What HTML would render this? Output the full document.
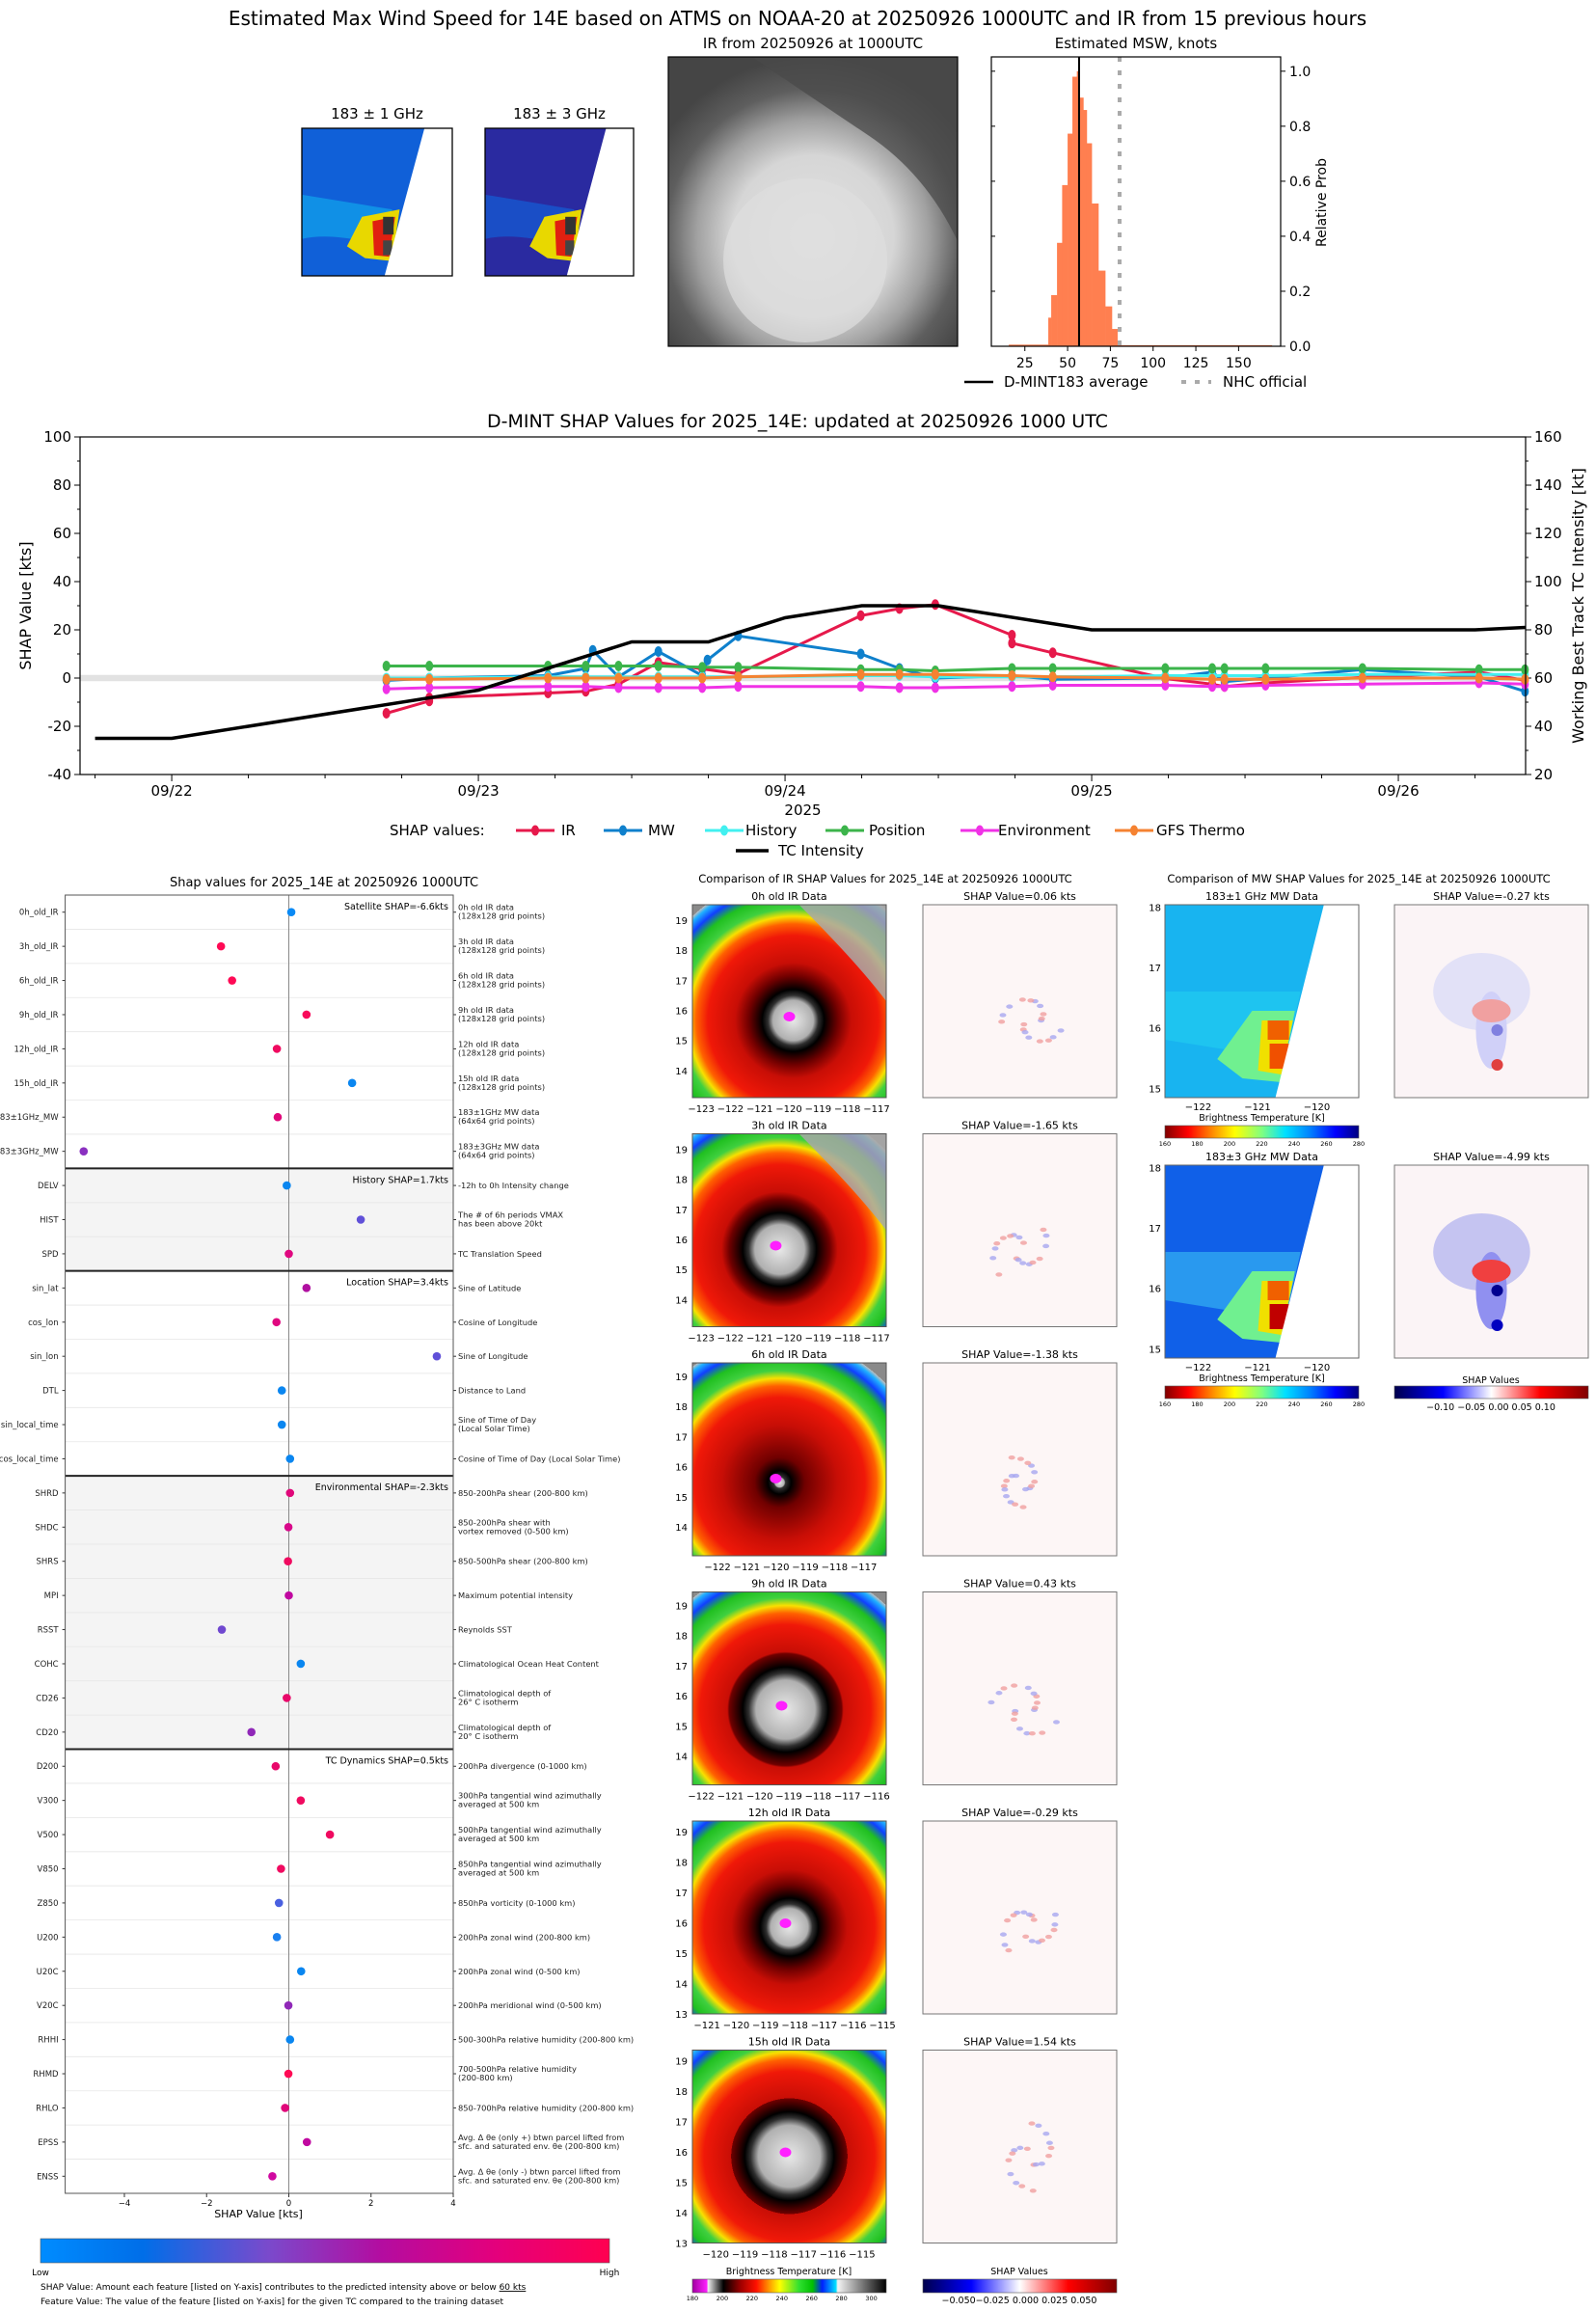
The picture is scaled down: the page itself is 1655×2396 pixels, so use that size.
<!DOCTYPE html>
<html><head><meta charset="utf-8">
<style>
html,body{margin:0;padding:0;background:#fff;}
svg{display:block;font-family:"DejaVu Sans","Liberation Sans",sans-serif;}
</style></head>
<body>
<svg id="page" width="1655" height="2396" viewBox="0 0 1655 2396" xmlns="http://www.w3.org/2000/svg">
<defs>
  <radialGradient id="topir" cx="0.5" cy="0.62" r="0.62">
    <stop offset="0" stop-color="#e2e2e2"/><stop offset="0.45" stop-color="#d6d6d6"/>
    <stop offset="0.65" stop-color="#a0a0a0"/><stop offset="0.82" stop-color="#5e5e5e"/><stop offset="1" stop-color="#454545"/>
  </radialGradient>
  <linearGradient id="cbShap" x1="0" x2="1" y1="0" y2="0">
    <stop offset="0" stop-color="#008cff"/><stop offset="0.18" stop-color="#006ee8"/><stop offset="0.4" stop-color="#7a4acc"/>
    <stop offset="0.6" stop-color="#b40ca0"/><stop offset="0.8" stop-color="#e4007c"/><stop offset="1" stop-color="#ff0050"/>
  </linearGradient>
  <linearGradient id="cbIR" x1="0" x2="1" y1="0" y2="0">
    <stop offset="0" stop-color="#a000a0"/><stop offset="0.075" stop-color="#ff20ff"/><stop offset="0.08" stop-color="#f0f0f0"/>
    <stop offset="0.16" stop-color="#000"/><stop offset="0.25" stop-color="#a00000"/><stop offset="0.33" stop-color="#ff1000"/>
    <stop offset="0.4" stop-color="#ffa000"/><stop offset="0.45" stop-color="#ffff00"/><stop offset="0.55" stop-color="#30e030"/>
    <stop offset="0.62" stop-color="#00c000"/><stop offset="0.67" stop-color="#0020ff"/><stop offset="0.74" stop-color="#00e0ff"/>
    <stop offset="0.75" stop-color="#f4f4f4"/><stop offset="1" stop-color="#000"/>
  </linearGradient>
  <linearGradient id="cbMW" x1="0" x2="1" y1="0" y2="0">
    <stop offset="0" stop-color="#800000"/><stop offset="0.12" stop-color="#ff0000"/><stop offset="0.25" stop-color="#ff9000"/>
    <stop offset="0.36" stop-color="#ffff00"/><stop offset="0.5" stop-color="#80ff80"/><stop offset="0.62" stop-color="#00e0ff"/>
    <stop offset="0.75" stop-color="#0080ff"/><stop offset="0.88" stop-color="#0000ff"/><stop offset="1" stop-color="#000080"/>
  </linearGradient>
  <linearGradient id="cbSeis" x1="0" x2="1" y1="0" y2="0">
    <stop offset="0" stop-color="#00004c"/><stop offset="0.25" stop-color="#0000ff"/><stop offset="0.5" stop-color="#ffffff"/>
    <stop offset="0.75" stop-color="#ff0000"/><stop offset="1" stop-color="#800000"/>
  </linearGradient>
</defs>

<text x="827" y="26" font-size="20" text-anchor="middle">Estimated Max Wind Speed for 14E based on ATMS on NOAA-20 at 20250926 1000UTC and IR from 15 previous hours</text>
<text x="391" y="123" font-size="15" text-anchor="middle">183 ± 1 GHz</text>
<text x="580" y="123" font-size="15" text-anchor="middle">183 ± 3 GHz</text>
<g id="topmw"></g>
<text x="843" y="50" font-size="15" text-anchor="middle">IR from 20250926 at 1000UTC</text>
<g>
  <rect x="693" y="59" width="300" height="300" fill="url(#topir)"/>
  <path d="M780 59 L993 59 L993 250 Q960 180 900 140 Q840 100 780 59 Z" fill="#4a4a4a" opacity="0.75"/>
  <ellipse cx="835" cy="270" rx="85" ry="85" fill="#dedede" opacity="0.7"/>
  <rect x="693" y="59" width="300" height="300" fill="none" stroke="#000" stroke-width="1.2"/>
</g>
<text x="1178" y="50" font-size="15" text-anchor="middle">Estimated MSW, knots</text>
<g id="hist"></g>

<text x="827" y="443" font-size="19" text-anchor="middle">D-MINT SHAP Values for 2025_14E: updated at 20250926 1000 UTC</text>
<g id="main"></g>

<text x="336" y="919" font-size="13" text-anchor="middle">Shap values for 2025_14E at 20250926 1000UTC</text>
<g id="dots"></g>
<rect x="42" y="2321" width="590" height="25" fill="url(#cbShap)" stroke="#555" stroke-width="0.6"/>
<text x="42" y="2359" font-size="9" text-anchor="middle">Low</text>
<text x="632" y="2359" font-size="9" text-anchor="middle">High</text>
<text x="42" y="2374" font-size="9">SHAP Value: Amount each feature [listed on Y-axis] contributes to the predicted intensity above or below <tspan text-decoration="underline">60 kts</tspan></text>
<text x="42" y="2389" font-size="9">Feature Value: The value of the feature [listed on Y-axis] for the given TC compared to the training dataset</text>

<text x="918" y="915" font-size="11.5" text-anchor="middle">Comparison of IR SHAP Values for 2025_14E at 20250926 1000UTC</text>
<text x="1409" y="915" font-size="11.5" text-anchor="middle">Comparison of MW SHAP Values for 2025_14E at 20250926 1000UTC</text>
<g id="irgrid"></g>
<g id="mwgrid"></g>
</svg>

<script>
const tcDays = [-0.25, 0, 1, 1.5, 1.75, 2, 2.25, 2.5, 3, 4.25, 4.415];
const tcVals = [35, 35, 55, 75, 75, 85, 90, 90, 80, 80, 81];
const irDays = [0.70,0.84,0.84,1.227,1.35,1.457,1.587,1.73,1.847,2.247,2.373,2.49,2.74,2.74,2.873,3.24,3.393,3.433,3.567,3.883,4.263,4.413];
const irVals = [-14.6,-9.5,-8.2,-6.2,-5.5,-2.5,6.5,3.8,1.8,25.9,28.8,30.5,17.8,14.5,10.5,-0.2,-2.5,-3.5,-2.0,0.3,2.5,-1.0];
const mwDays = [0.70,0.84,1.227,1.35,1.373,1.457,1.587,1.73,1.747,1.847,2.247,2.373,2.49,2.74,2.873,3.24,3.393,3.433,3.567,3.883,4.263,4.413];
const mwVals = [-1.0,0,1.0,4.0,11.5,0.5,11.0,1.0,7.5,17.5,10.0,4.0,0.0,1.0,-0.5,0,2.5,-1.5,0,3.5,0.5,-5.5];
const otherDays = [0.70,0.84,1.227,1.35,1.457,1.587,1.73,1.847,2.247,2.373,2.49,2.74,2.873,3.24,3.393,3.433,3.567,3.883,4.263,4.413];
const historyVals = [0,0,0.5,0.5,0.5,0.5,0.5,0.5,1.0,1.0,0.5,0.5,0.5,1.0,1.0,1.0,1.0,1.5,1.5,1.5];
const positionVals = [5,5,5,5,5,5,4.5,4.5,3.5,3.5,3,4,4,4,4,4,4,4,3.5,3.5];
const envVals = [-4.5,-4,-3.5,-3.5,-4,-4,-4,-3.5,-3.5,-4,-4,-3.5,-3,-3,-3.5,-3.5,-3,-2.5,-2,-2.5];
const gfsVals = [-0.5,-0.5,0,0,0,0,0,0.5,1.5,1.5,1.5,1,0.5,0,-0.5,-0.5,-0.5,0,0,-0.5];
const dateLabels = ["09/22","09/23","09/24","09/25","09/26"];
const leftTicks = [-40,-20,0,20,40,60,80,100];
const rightTicks = [20,40,60,80,100,120,140,160];

const binEdges = [38.7,40.4,43.8,46.8,50.0,52.8,55.4,57.1,59.2,61.2,64.1,68.0,72.0,75.9,79.1];
const binProbs = [0.104,0.186,0.376,0.586,0.773,0.98,1.0,0.904,0.859,0.738,0.519,0.275,0.145,0.063];
const tailLeft = [15.6, 38.7, 0.006];
const tailRight = [79.1, 169.6, 0.004];
const mintAvg = 56.7;
const nhcOfficial = 80.4;
const histXTicks = [25,50,75,100,125,150];
const histYTicks = [0.0,0.2,0.4,0.6,0.8,1.0];

const featNames = ["0h_old_IR","3h_old_IR","6h_old_IR","9h_old_IR","12h_old_IR","15h_old_IR","183±1GHz_MW","183±3GHz_MW",
 "DELV","HIST","SPD","sin_lat","cos_lon","sin_lon","DTL","sin_local_time","cos_local_time",
 "SHRD","SHDC","SHRS","MPI","RSST","COHC","CD26","CD20",
 "D200","V300","V500","V850","Z850","U200","U20C","V20C","RHHI","RHMD","RHLO","EPSS","ENSS"];
const featShap = [0.06,-1.65,-1.38,0.43,-0.29,1.54,-0.27,-4.99,
 -0.05,1.75,0.0,0.43,-0.30,3.60,-0.17,-0.17,0.03,
 0.03,-0.01,-0.02,0.0,-1.63,0.29,-0.05,-0.91,
 -0.32,0.29,1.0,-0.19,-0.24,-0.29,0.30,-0.01,0.03,-0.01,-0.09,0.44,-0.40];
const featColor = ["#0a8af5","#ff0a55","#ff0a55","#f80a5a","#f00a60","#0a86f0","#e0087a","#8a30c0",
 "#0a86f0","#6050d8","#e00880","#b010a0","#e00880","#6050d8","#0a86f0","#0a86f0","#0a86f0",
 "#e0087a","#d8088a","#f00a60","#c008a0","#7048d0","#0a86f0","#e8086a","#9028b8",
 "#e8086a","#f00a60","#f00a60","#f00a60","#4a60e0","#1a80f0","#0a86f0","#9028b8","#0a86f0","#ff0a55","#e0087a","#c008a0","#d008a0"];
const featDesc = [["0h old IR data","(128x128 grid points)"],["3h old IR data","(128x128 grid points)"],["6h old IR data","(128x128 grid points)"],
 ["9h old IR data","(128x128 grid points)"],["12h old IR data","(128x128 grid points)"],["15h old IR data","(128x128 grid points)"],
 ["183±1GHz MW data","(64x64 grid points)"],["183±3GHz MW data","(64x64 grid points)"],
 ["-12h to 0h Intensity change"],["The # of 6h periods VMAX","has been above 20kt"],["TC Translation Speed"],
 ["Sine of Latitude"],["Cosine of Longitude"],["Sine of Longitude"],["Distance to Land"],["Sine of Time of Day","(Local Solar Time)"],["Cosine of Time of Day (Local Solar Time)"],
 ["850-200hPa shear (200-800 km)"],["850-200hPa shear with","vortex removed (0-500 km)"],["850-500hPa shear (200-800 km)"],["Maximum potential intensity"],
 ["Reynolds SST"],["Climatological Ocean Heat Content"],["Climatological depth of","26° C isotherm"],["Climatological depth of","20° C isotherm"],
 ["200hPa divergence (0-1000 km)"],["300hPa tangential wind azimuthally","averaged at 500 km"],["500hPa tangential wind azimuthally","averaged at 500 km"],
 ["850hPa tangential wind azimuthally","averaged at 500 km"],["850hPa vorticity (0-1000 km)"],["200hPa zonal wind (200-800 km)"],["200hPa zonal wind (0-500 km)"],
 ["200hPa meridional wind (0-500 km)"],["500-300hPa relative humidity (200-800 km)"],["700-500hPa relative humidity","(200-800 km)"],
 ["850-700hPa relative humidity (200-800 km)"],["Avg. Δ θe (only +) btwn parcel lifted from","sfc. and saturated env. θe (200-800 km)"],["Avg. Δ θe (only -) btwn parcel lifted from","sfc. and saturated env. θe (200-800 km)"]];
const groupNames = ["Satellite SHAP=-6.6kts","History SHAP=1.7kts","Location SHAP=3.4kts","Environmental SHAP=-2.3kts","TC Dynamics SHAP=0.5kts"];
const groupSizes = [8,3,6,8,13];
const dotTicks = [-4,-2,0,2,4];

const NS = "http://www.w3.org/2000/svg";
function mk(tag, attrs, parent){const e=document.createElementNS(NS,tag);for(const k in attrs)e.setAttribute(k,attrs[k]);parent.appendChild(e);return e;}
function txt(s, attrs, parent){const e=mk("text",attrs,parent);e.textContent=s;return e;}

(function(){
  const g=document.getElementById("main");
  const L=83,R=1582,T=453,B=803;
  const xmin=-0.299,xmax=4.415;
  const X=d=>L+(d-xmin)/(xmax-xmin)*(R-L);
  const Y=v=>B-(v+40)/140*(B-T);
  const Yr=v=>Y(v-60);
  let e;
  e=mk("rect",{x:L,y:Y(1.3),width:R-L,height:Y(-1.3)-Y(1.3),fill:"#e2e2e2"},g);
  
  
  for(let v=-40;v<=100;v+=10){
    e=mk("line",{x1:L-(v%20===0?6:3),x2:L,y1:Y(v),y2:Y(v),stroke:"#000"},g);
    
    
  }
  leftTicks.forEach(v=>{
    e=txt(String(v),{x:L-9,y:Y(v)+5,"font-size":15,"text-anchor":"end"},g);
    
    
  });
  for(let v=20;v<=160;v+=10){
    e=mk("line",{x1:R,x2:R+(v%20===0?6:3),y1:Yr(v),y2:Yr(v),stroke:"#000"},g);
    
    
  }
  rightTicks.forEach(v=>{
    e=txt(String(v),{x:R+9,y:Yr(v)+5,"font-size":15},g);
    
    
  });
  for(let d=-0.25;d<=4.4;d+=0.25){
    const major=Math.abs(d-Math.round(d))<1e-6;
    e=mk("line",{x1:X(d),x2:X(d),y1:B,y2:B+(major?7:4),stroke:"#000"},g);
    
    
  }
  dateLabels.forEach((s,i)=>{
    e=txt(s,{x:X(i),y:825,"font-size":15,"text-anchor":"middle"},g);
    
    
  });
  e=txt("2025",{x:(L+R)/2,y:845,"font-size":15,"text-anchor":"middle"},g);
  
  
  e=txt("SHAP Value [kts]",{x:0,y:0,"font-size":16,"text-anchor":"middle",transform:`translate(32,${(T+B)/2}) rotate(-90)`},g);
  
  
  e=txt("Working Best Track TC Intensity [kt]",{x:0,y:0,"font-size":16,"text-anchor":"middle",transform:`translate(1642,${(T+B)/2}) rotate(-90)`},g);
  
  

  function series(days,vals,color,name){
    const pts=days.map((d,i)=>X(d).toFixed(1)+","+Y(vals[i]).toFixed(1)).join(" ");
    let p=mk("polyline",{points:pts,fill:"none",stroke:color,"stroke-width":3},g);
    
    
    days.forEach((d,i)=>{
      const c=mk("ellipse",{cx:X(d),cy:Y(vals[i]),rx:4,ry:5.5,fill:color},g);
      
      
    });
  }
  series(irDays,irVals,"#e6194b","ir");
  series(mwDays,mwVals,"#0f80cc","mw");
  series(otherDays,historyVals,"#42f0f0","history");
  series(otherDays,positionVals,"#3cb44b","position");
  series(otherDays,envVals,"#f032e6","environment");
  series(otherDays,gfsVals,"#f58231","gfs-thermo");
  const tp=tcDays.map((d,i)=>X(d).toFixed(1)+","+Yr(tcVals[i]).toFixed(1)).join(" ");
  e=mk("polyline",{points:tp,fill:"none",stroke:"#000","stroke-width":3.5},g);
  
  
  e=mk("rect",{x:L,y:T,width:R-L,height:B-T,fill:"none",stroke:"#000","stroke-width":1.2},g);
  
  

  const lg=mk("g",{},g);
  
  
  txt("SHAP values:",{x:404,y:866,"font-size":15},lg);
  const items=[["IR","#e6194b",535,582],["MW","#0f80cc",626,672],["History","#42f0f0",731,773],["Position","#3cb44b",856,901],["Environment","#f032e6",996,1035],["GFS Thermo","#f58231",1156,1199]];
  items.forEach(it=>{
    const li=mk("g",{},lg);
    
    
    mk("line",{x1:it[2],x2:it[2]+40,y1:861,y2:861,stroke:it[1],"stroke-width":3},li);
    mk("ellipse",{cx:it[2]+20,cy:861,rx:4,ry:5.5,fill:it[1]},li);
    txt(it[0],{x:it[3],y:866,"font-size":15},li);
  });
  const tl=mk("g",{},lg);
  
  
  mk("line",{x1:763,x2:797,y1:882,y2:882,stroke:"#000","stroke-width":3.5},tl);
  txt("TC Intensity",{x:807,y:887,"font-size":15},tl);
})();

(function(){
  const g=document.getElementById("hist");
  const L=1028,R=1328,T=59,B=359,xmin=5.4,xmax=174.6,ymax=1.052;
  const X=v=>L+(v-xmin)/(xmax-xmin)*(R-L);
  const Y=v=>B-v/ymax*(B-T);
  let e;
  e=mk("rect",{x:X(tailLeft[0]),y:Y(tailLeft[2]),width:X(tailLeft[1])-X(tailLeft[0]),height:B-Y(tailLeft[2]),fill:"#ff7f50"},g);
  
  
  e=mk("rect",{x:X(tailRight[0]),y:Y(tailRight[2]),width:X(tailRight[1])-X(tailRight[0]),height:B-Y(tailRight[2]),fill:"#ff7f50"},g);
  
  
  binProbs.forEach((p,i)=>{
    const r=mk("rect",{x:X(binEdges[i]),y:Y(p),width:X(binEdges[i+1])-X(binEdges[i])+0.3,height:B-Y(p),fill:"#ff7f50"},g);
    
    
  });
  e=mk("line",{x1:X(mintAvg),x2:X(mintAvg),y1:T,y2:B,stroke:"#000","stroke-width":2},g);
  
  
  e=mk("line",{x1:X(nhcOfficial),x2:X(nhcOfficial),y1:T,y2:B,stroke:"#aaa","stroke-width":4,"stroke-dasharray":"5 9"},g);
  
  
  e=mk("rect",{x:L,y:T,width:R-L,height:B-T,fill:"none",stroke:"#000","stroke-width":1.2},g);
  
  
  histXTicks.forEach(v=>{
    e=mk("line",{x1:X(v),x2:X(v),y1:B,y2:B+5,stroke:"#000"},g);
    
    
    e=txt(String(v),{x:X(v),y:381,"font-size":14,"text-anchor":"middle"},g);
    
    
  });
  histYTicks.forEach(v=>{
    e=mk("line",{x1:R,x2:R+5,y1:Y(v),y2:Y(v),stroke:"#000"},g);
    
    
    e=mk("line",{x1:L,x2:L+4,y1:Y(v),y2:Y(v),stroke:"#000"},g);
    
    
    e=txt(v.toFixed(1),{x:R+9,y:Y(v)+5,"font-size":14},g);
    
    
  });
  e=txt("Relative Prob",{x:0,y:0,"font-size":14,"text-anchor":"middle",transform:`translate(1375,210) rotate(-90)`},g);
  
  
  const l1=mk("g",{},g);
  
  
  mk("line",{x1:1000,x2:1030,y1:396,y2:396,stroke:"#000","stroke-width":2.5},l1);
  txt("D-MINT183 average",{x:1041,y:401,"font-size":15},l1);
  const l2=mk("g",{},g);
  
  
  mk("line",{x1:1225,x2:1256,y1:396,y2:396,stroke:"#aaa","stroke-width":4,"stroke-dasharray":"5 9"},l2);
  txt("NHC official",{x:1268,y:401,"font-size":15},l2);
})();

(function(){
  const g=document.getElementById("topmw");
  function panel(x,y,w,h,base,alt,name){
    const p=mk("g",{},g);
    
    
    mk("rect",{x:x,y:y,width:w,height:h,fill:base},p);
    mk("path",{d:`M${x} ${y+h*0.45} Q${x+w*0.3} ${y+h*0.5} ${x+w*0.6} ${y+h*0.55} L${x+w*0.55} ${y+h*0.8} Q${x+w*0.2} ${y+h*0.7} ${x} ${y+h*0.75}Z`,fill:alt,opacity:0.6},p);
    mk("path",{d:`M${x+w*0.4} ${y+h*0.6} L${x+w*0.65} ${y+h*0.55} L${x+w*0.6} ${y+h*0.9} L${x+w*0.42} ${y+h*0.88} L${x+w*0.3} ${y+h*0.8}Z`,fill:"#e8d800"},p);
    mk("path",{d:`M${x+w*0.47} ${y+h*0.63} L${x+w*0.62} ${y+h*0.6} L${x+w*0.58} ${y+h*0.87} L${x+w*0.48} ${y+h*0.86}Z`,fill:"#e02010"},p);
    mk("rect",{x:x+w*0.54,y:y+h*0.6,width:w*0.07,height:h*0.12,fill:"#333"},p);
    mk("rect",{x:x+w*0.54,y:y+h*0.76,width:w*0.06,height:h*0.1,fill:"#444"},p);
    mk("polygon",{points:`${x+w*0.815},${y} ${x+w},${y} ${x+w},${y+h} ${x+w*0.55},${y+h}`,fill:"#fff"},p);
    mk("rect",{x:x,y:y,width:w,height:h,fill:"none",stroke:"#000","stroke-width":1.3},p);
  }
  panel(313,133,156,153,"#1060d8","#10b0f0","mw1-top-image");
  panel(503,133,154,153,"#2a2aa0","#1068e0","mw3-top-image");
})();

(function(){
  const g=document.getElementById("dots");
  const L=67.6,R=470,T=928,B=2274,xmin=-5.44,xmax=4;
  const n=featNames.length,rh=(B-T)/n;
  const X=v=>L+(v-xmin)/(xmax-xmin)*(R-L);
  const Yc=i=>T+rh*(i+0.5);
  let e,start=0;
  groupSizes.forEach((s,gi)=>{
    if(gi===1||gi===3){
      e=mk("rect",{x:L,y:T+start*rh,width:R-L,height:s*rh,fill:"#f4f4f4"},g);
      
      
    }
    e=txt(groupNames[gi],{x:R-5,y:T+start*rh+15,"font-size":9.5,"text-anchor":"end"},g);
    
    
    start+=s;
  });
  for(let i=1;i<n;i++){
    e=mk("line",{x1:L,x2:R,y1:T+i*rh,y2:T+i*rh,stroke:"#e6e6e6","stroke-width":0.8},g);
    
    
  }
  e=mk("line",{x1:X(0),x2:X(0),y1:T,y2:B,stroke:"#888","stroke-width":1},g);
  
  
  start=0;
  groupSizes.forEach((s,gi)=>{
    start+=s;
    if(gi<groupSizes.length-1){
      e=mk("line",{x1:L,x2:R,y1:T+start*rh,y2:T+start*rh,stroke:"#222","stroke-width":2},g);
      
      
    }
  });
  featNames.forEach((nm,i)=>{
    const y=Yc(i);
    e=txt(nm,{x:L-7,y:y+3,"font-size":8.5,"text-anchor":"end",fill:"#222"},g);
    
    
    e=mk("line",{x1:L-3,x2:L,y1:y,y2:y,stroke:"#333"},g);
    
    
    e=mk("line",{x1:R,x2:R+3,y1:y,y2:y,stroke:"#333"},g);
    
    
    const d=featDesc[i];
    d.forEach((line,k)=>{
      const yy=d.length===1?y+3:y-2+k*9;
      e=txt(line,{x:R+5,y:yy,"font-size":8.3,fill:"#222"},g);
      
      
    });
    const c=mk("circle",{cx:X(featShap[i]),cy:y,r:4.3,fill:featColor[i]},g);
    
    
  });
  e=mk("rect",{x:L,y:T,width:R-L,height:B-T,fill:"none",stroke:"#555","stroke-width":1},g);
  
  
  dotTicks.forEach(v=>{
    e=mk("line",{x1:X(v),x2:X(v),y1:B,y2:B+4,stroke:"#333"},g);
    
    
    e=txt(v<0?"−"+(-v):String(v),{x:X(v),y:B+13,"font-size":8.5,"text-anchor":"middle"},g);
    
    
  });
  e=txt("SHAP Value [kts]",{x:268,y:B+25,"font-size":11,"text-anchor":"middle"},g);
  
  
})();

(function(){
  const g=document.getElementById("irgrid");
  const tops=[938,1175.5,1413,1650.5,1888,2125.5];
  const titles=["0h old IR Data","3h old IR Data","6h old IR Data","9h old IR Data","12h old IR Data","15h old IR Data"];
  const shapT=["SHAP Value=0.06 kts","SHAP Value=-1.65 kts","SHAP Value=-1.38 kts","SHAP Value=0.43 kts","SHAP Value=-0.29 kts","SHAP Value=1.54 kts"];
  const cores=[[0.52,0.6,0.13],[0.45,0.6,0.16],[0.45,0.62,0.03],[0.48,0.61,0.19],[0.5,0.55,0.12],[0.5,0.55,0.2]];
  const lonLeft=[-123.3,-123.3,-122.86,-122.3,-121.5,-120.8];
  const latTop=[19.51,19.51,19.45,19.45,19.35,19.35];
  const lonTicks=[[-123,-117],[-123,-117],[-122,-117],[-122,-116],[-121,-115],[-120,-115]];
  const latTicks=[[14,19],[14,19],[14,19],[14,19],[13,19],[13,19]];
  const x0=718,w=201,h=200,sx=957;
  const defs=document.querySelector("defs");
  const clip=mk("clipPath",{id:"irclip"},defs);
  tops.forEach((t,i)=>{
    const [cx,cy,rc]=cores[i];
    const gid="irg"+i;
    const rg=mk("radialGradient",{id:gid,cx:cx,cy:cy,r:0.75},defs);
    const stops=[[0,"#e8e8e8"],[rc*0.8,"#b0b0b0"],[rc,"#303030"],[rc+0.03,"#000"],[rc+0.1,"#700000"],[0.3,"#c80e06"],[0.44,"#f01808"],[0.5,"#ff6000"],[0.54,"#f8e000"],[0.58,"#40d040"],[0.64,"#20c020"],[0.69,"#1040ff"],[0.73,"#20b0ff"],[0.77,"#c0c0c0"],[1,"#8a8a8a"]];
    stops.forEach(s=>mk("stop",{offset:Math.min(1,s[0]/0.75),"stop-color":s[1]},rg));
    const p=mk("g",{},g);
    
    
    mk("rect",{x:x0,y:t,width:w,height:h,fill:`url(#${gid})`},p);
    if(i<2){
      mk("path",{d:`M${x0+w*0.55} ${t} L${x0+w} ${t} L${x0+w} ${t+h*0.5} Q${x0+w*0.85} ${t+h*0.3} ${x0+w*0.55} ${t}Z`,fill:"#a8a8a8",opacity:0.85},p);
    }
    mk("ellipse",{cx:x0+w*(cx-0.02),cy:t+h*(cy-0.02),rx:6,ry:5,fill:"#ff20ff"},p);
    mk("rect",{x:x0,y:t,width:w,height:h,fill:"none",stroke:"#555","stroke-width":1},p);
    let e=txt(titles[i],{x:x0+w/2,y:t-5,"font-size":11,"text-anchor":"middle"},g);
    
    
    const dlon=w/6.63,dlat=(i>=4?31.5:31.2);
    for(let lo=lonTicks[i][0];lo<=lonTicks[i][1];lo++){
      const xx=x0+(lo-lonLeft[i])*dlon;
      e=txt("−"+(-lo),{x:xx,y:t+h+15,"font-size":10,"text-anchor":"middle"},g);
      
      
    }
    for(let la=latTicks[i][0];la<=latTicks[i][1];la++){
      const yy=t+(latTop[i]-la)*dlat;
      e=txt(String(la),{x:x0-5,y:yy+4,"font-size":10,"text-anchor":"end"},g);
      
      
    }
    const s=mk("g",{},g);
    
    
    mk("rect",{x:sx,y:t,width:w,height:h,fill:"#fdf6f6"},s);
    for(let k=0;k<18;k++){
      const a=k*2.4+i, rr=8+((k*37+i*11)%30)*(0.6+rc*2);
      mk("ellipse",{cx:sx+w*(cx+0.05)+Math.cos(a)*rr,cy:t+h*cy+Math.sin(a)*rr,rx:3.5,ry:2.2,fill:k%2?"#f0a0a0":"#a8a8f0",opacity:0.8},s);
    }
    mk("rect",{x:sx,y:t,width:w,height:h,fill:"none",stroke:"#777","stroke-width":1},s);
    e=txt(shapT[i],{x:sx+w/2,y:t-5,"font-size":11,"text-anchor":"middle"},g);
    
    
  });
  let e=mk("rect",{x:718,y:2363,width:201,height:14,fill:"url(#cbIR)",stroke:"#555","stroke-width":0.6},g);
  
  
  e=txt("Brightness Temperature [K]",{x:818,y:2358,"font-size":9.5,"text-anchor":"middle"},g);
  
  
  [180,200,220,240,260,280,300].forEach((v,k)=>{
    e=txt(String(v),{x:718+(v-180)/130*201,y:2385,"font-size":6.5,"text-anchor":"middle"},g);
    
    
  });
  e=mk("rect",{x:957,y:2363,width:201,height:14,fill:"url(#cbSeis)",stroke:"#555","stroke-width":0.6},g);
  
  
  e=txt("SHAP Values",{x:1057,y:2358,"font-size":9.5,"text-anchor":"middle"},g);
  
  
  e=txt("−0.050−0.025 0.000  0.025  0.050",{x:1057,y:2388,"font-size":9.5,"text-anchor":"middle"},g);
  
  
})();

(function(){
  const g=document.getElementById("mwgrid");
  const x0=1208,w=201,h=200,sx=1446;
  const tops=[938,1208];
  const titles=["183±1 GHz MW Data","183±3 GHz MW Data"];
  const shapT=["SHAP Value=-0.27 kts","SHAP Value=-4.99 kts"];
  const bases=["#18b4f0","#1060e8"];
  tops.forEach((t,i)=>{
    const p=mk("g",{},g);
    
    
    mk("rect",{x:x0,y:t,width:w,height:h,fill:bases[i]},p);
    mk("path",{d:`M${x0} ${t+h*0.45} L${x0+w*0.7} ${t+h*0.45} L${x0+w*0.62} ${t+h*0.8} L${x0} ${t+h*0.7}Z`,fill:i?"#30a8f0":"#20c8f0",opacity:0.8},p);
    mk("path",{d:`M${x0+w*0.45} ${t+h*0.55} L${x0+w*0.67} ${t+h*0.55} L${x0+w*0.6} ${t+h*0.92} L${x0+w*0.4} ${t+h*0.9} L${x0+w*0.27} ${t+h*0.8}Z`,fill:"#70f090"},p);
    mk("path",{d:`M${x0+w*0.5} ${t+h*0.6} L${x0+w*0.66} ${t+h*0.6} L${x0+w*0.6} ${t+h*0.88} L${x0+w*0.48} ${t+h*0.86}Z`,fill:"#f0e000"},p);
    mk("rect",{x:x0+w*0.53,y:t+h*0.6,width:w*0.11,height:h*0.1,fill:"#f06000"},p);
    mk("rect",{x:x0+w*0.54,y:t+h*0.72,width:w*0.1,height:h*0.13,fill:i?"#c00000":"#f05000"},p);
    mk("polygon",{points:`${x0+w*0.82},${t} ${x0+w},${t} ${x0+w},${t+h} ${x0+w*0.57},${t+h}`,fill:"#fff"},p);
    mk("rect",{x:x0,y:t,width:w,height:h,fill:"none",stroke:"#666","stroke-width":1},p);
    let e=txt(titles[i],{x:x0+w/2,y:t-5,"font-size":11,"text-anchor":"middle"},g);
    
    
    [18,17,16,15].forEach((la,k)=>{
      e=txt(String(la),{x:x0-4,y:t+2.5+k*62.6+4,"font-size":10,"text-anchor":"end"},g);
      
      
    });
    [-122,-121,-120].forEach((lo,k)=>{
      e=txt("−"+(-lo),{x:1242.5+k*61.5,y:t+h+13,"font-size":10,"text-anchor":"middle"},g);
      
      
    });
    e=txt("Brightness Temperature [K]",{x:x0+w/2,y:t+h+24,"font-size":9.5,"text-anchor":"middle"},g);
    
    
    e=mk("rect",{x:x0,y:t+h+29,width:w,height:13,fill:"url(#cbMW)",stroke:"#555","stroke-width":0.6},g);
    
    
    [160,180,200,220,240,260,280].forEach(v=>{
      e=txt(String(v),{x:x0+(v-160)/120*w,y:t+h+50,"font-size":6.5,"text-anchor":"middle"},g);
      
      
    });
    const s=mk("g",{},g);
    
    
    mk("rect",{x:sx,y:t,width:w,height:h,fill:"#fbf4f6"},s);
    mk("ellipse",{cx:sx+w*0.45,cy:t+h*0.45,rx:w*0.25,ry:h*0.2,fill:i?"#b8b8f0":"#dcdcf8",opacity:0.8},s);
    mk("ellipse",{cx:sx+w*0.5,cy:t+h*0.65,rx:w*0.08,ry:h*0.2,fill:i?"#9090f0":"#d0d0f8"},s);
    mk("ellipse",{cx:sx+w*0.5,cy:t+h*0.55,rx:w*0.1,ry:h*0.06,fill:i?"#f04040":"#f0a0a0"},s);
    mk("ellipse",{cx:sx+w*0.53,cy:t+h*0.65,rx:w*0.03,ry:h*0.03,fill:i?"#000090":"#8080e0"},s);
    mk("ellipse",{cx:sx+w*0.53,cy:t+h*0.83,rx:w*0.03,ry:h*0.03,fill:i?"#0000c0":"#e04040"},s);
    mk("rect",{x:sx,y:t,width:w,height:h,fill:"none",stroke:"#777","stroke-width":1},s);
    e=txt(shapT[i],{x:sx+w/2,y:t-5,"font-size":11,"text-anchor":"middle"},g);
    
    
  });
  let e=txt("SHAP Values",{x:1546,y:1434,"font-size":9.5,"text-anchor":"middle"},g);
  
  
  e=mk("rect",{x:1446,y:1437,width:201,height:13,fill:"url(#cbSeis)",stroke:"#555","stroke-width":0.6},g);
  
  
  e=txt("−0.10   −0.05   0.00   0.05   0.10",{x:1546,y:1462,"font-size":9.5,"text-anchor":"middle"},g);
  
  
})();
</script>
</body></html>
